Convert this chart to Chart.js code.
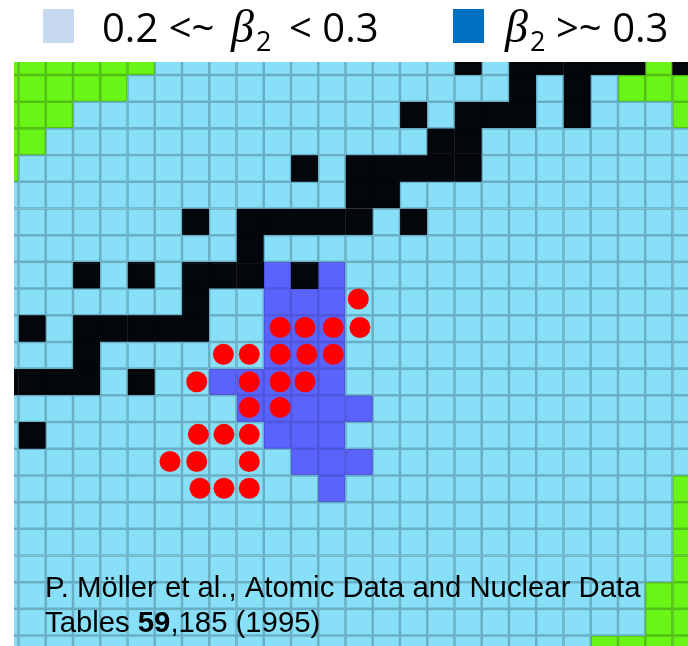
<!DOCTYPE html>
<html>
<head>
<meta charset="utf-8">
<script src="https://cdn.jsdelivr.net/npm/chart.js@4.4.1/dist/chart.umd.min.js"></script>
<style>
  html, body { margin: 0; padding: 0; background: #fff; }
  canvas { display: block; }
</style>
</head>
<body>
<canvas id="betaChart" width="688" height="646"></canvas>
<script>
// deformation map, top row first, one char per cell
// . = light blue, k = black, g = green, p = beta2 >~ 0.3
const firstCol = -1;
const firstRow = -1;
const gridRows = [
  'gggggg...........k.kkkkkgk',
  'ggggg..............k.k.ggg',
  'ggg............k.kkk.k...g',
  'gg..............kk........',
  'g..........k.kkkkk........',
  '.............kk...........',
  '.......k.kkkkk.k..........',
  '.........k................',
  '...k.k.kkkpkp.............',
  '.......k..ppp.............',
  '.k.kkkkk..ppp.............',
  '...k......ppp.............',
  'kkkk.k..ppppp.............',
  '.........ppppp............',
  '.k........ppp.............',
  '...........ppp............',
  '............p............g',
  '.........................g',
  '.........................g',
  '.........................g',
  '........................gg',
  '........................gg',
  '......................gggg'
];

// red dots (column, row in cell units)
const dotX = [12.47, 9.60, 10.51, 11.55, 12.53, 7.52, 8.47, 9.60, 10.58, 11.55,
              6.54, 8.47, 9.60, 10.51, 8.47, 9.60, 6.60, 7.54, 8.47, 5.56,
              6.54, 8.47, 6.66, 7.54, 8.47];
const dotY = [8.39, 9.46, 9.46, 9.46, 9.46, 10.46, 10.46, 10.46, 10.46, 10.46,
              11.49, 11.49, 11.49, 11.49, 12.46, 12.46, 13.46, 13.46, 13.46, 14.48,
              14.48, 14.48, 15.48, 15.48, 15.48];

// legend pieces: [text, kind], kind n = normal, i = italic beta, s = subscript
const legendLabels = [
  [['0.2 <~', 'n'], ['β', 'i'], ['2', 's'], ['< 0.3', 'n']],
  [['β', 'i'], ['2', 's'], ['>~ 0.3', 'n']]
];
const legendColors = ['#c6d9f1', '#0070c0'];
const citeLine1 = 'P. Möller et al., Atomic Data and Nuclear Data';
const citeLine2 = ['Tables ', '59', ',185 (1995)'];

const cellColors = { '.': '#87e0f8', k: '#03060a', g: '#69f516', p: '#5a63fc' };
const cellBorders = { '.': '#69afc5', k: '#03060a', g: '#52c015', p: '#4e56de' };

gridRows.forEach((s, i) => {
  if (s.length !== 26) throw new Error('row ' + i + ' has ' + s.length + ' cells');
});

const cellSets = Object.keys(cellColors).map(key => {
  const cells = [];
  gridRows.forEach((s, r) => {
    for (let c = 0; c < s.length; c++) {
      if (s[c] === key) {
        const col = c + firstCol, row = r + firstRow;
        cells.push({ x: col + 0.5, y: [row, row + 1] });
      }
    }
  });
  return {
    type: 'bar',
    label: key,
    data: cells,
    backgroundColor: cellColors[key],
    borderColor: cellBorders[key],
    borderWidth: 1.6,
    borderSkipped: false,
    grouped: false,
    barPercentage: 1,
    categoryPercentage: 1,
    order: 1
  };
});

const dotSet = {
  type: 'scatter',
  label: 'dots',
  data: dotX.map((x, i) => ({ x: x, y: dotY[i] })),
  backgroundColor: '#ff0000',
  borderWidth: 0,
  pointRadius: 10.5,
  order: 0
};

// legend on top, beta drawn in italic with subscript
const headerLegend = {
  id: 'headerLegend',
  afterDraw(chart) {
    const ctx = chart.ctx;
    const boxX = [43, 453];
    const pieceX = [[102, 231, 256, 289], [505, 530, 556]];
    ctx.save();
    ctx.textBaseline = 'alphabetic';
    legendLabels.forEach((parts, i) => {
      ctx.fillStyle = legendColors[i];
      ctx.fillRect(boxX[i], 9, 31, 34);
      ctx.fillStyle = '#000';
      parts.forEach(([t, kind], j) => {
        const x = pieceX[i][j];
        if (kind === 'i') {
          ctx.font = 'italic 46px "Liberation Serif"';
          ctx.fillText(t, x, 42);
        } else if (kind === 's') {
          ctx.font = '27px "Open Sans"';
          ctx.fillText(t, x, 51);
        } else {
          ctx.font = '40px "Open Sans"';
          ctx.fillText(t, x, 42);
        }
      });
    });
    ctx.restore();
  }
};

const citation = {
  id: 'citation',
  afterDraw(chart) {
    const ctx = chart.ctx;
    ctx.save();
    ctx.fillStyle = '#000';
    ctx.textBaseline = 'alphabetic';
    ctx.font = '29.3px "Liberation Sans"';
    ctx.fillText(citeLine1, 45, 597);
    let x = 45;
    citeLine2.forEach((t, i) => {
      ctx.font = (i === 1 ? 'bold ' : '') + '29.3px "Liberation Sans"';
      ctx.fillText(t, x, 632);
      x += ctx.measureText(t).width;
    });
    ctx.restore();
  }
};

const ctx = document.getElementById('betaChart').getContext('2d');
new Chart(ctx, {
  type: 'bar',
  data: { datasets: [dotSet].concat(cellSets) },
  options: {
    responsive: false,
    animation: false,
    layout: { autoPadding: false, padding: { left: 14, top: 62, right: 0, bottom: 0 } },
    plugins: {
      legend: { display: false },
      tooltip: { enabled: false }
    },
    scales: {
      x: {
        type: 'linear',
        min: -0.165,
        max: 24.57,
        offset: false,
        display: false,
        ticks: { stepSize: 1, includeBounds: false }
      },
      y: {
        type: 'linear',
        reverse: true,
        min: -0.487,
        max: 21.39,
        offset: false,
        display: false,
        ticks: { stepSize: 1, includeBounds: false }
      }
    }
  },
  plugins: [headerLegend, citation]
});
</script>
</body>
</html>
